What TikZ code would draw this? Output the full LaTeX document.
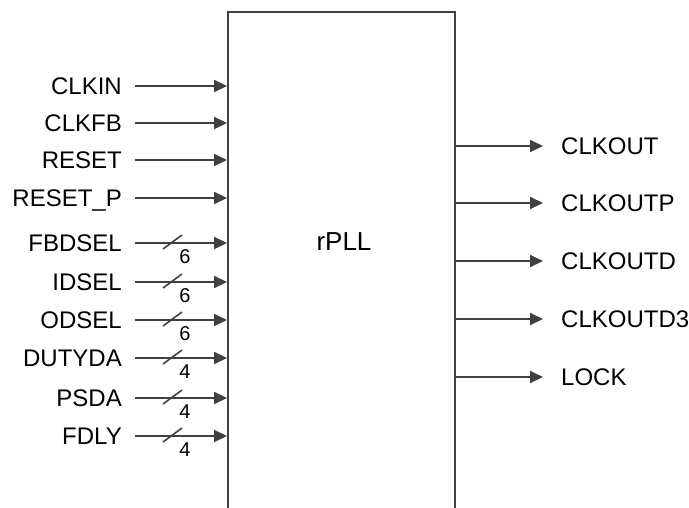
\documentclass[tikz,border=0pt]{standalone}
\usepackage{fontspec}
\setmainfont{Liberation Sans}
\usetikzlibrary{arrows.meta}
\definecolor{linec}{RGB}{64,64,64}
\tikzset{
  wire/.style={draw=linec, line width=2pt, -{Triangle[length=13pt,width=12pt]}},
  lbl/.style={font=\fontsize{24}{27}\selectfont, inner sep=0pt, text height=17pt, text depth=0pt},
  inl/.style={lbl, anchor=east},
  outl/.style={lbl, anchor=west},
  buslbl/.style={font=\fontsize{20}{23}\selectfont, inner sep=0pt},
  slash/.style={draw=linec, line width=1.6pt},
  blk/.style={draw=linec, line width=2pt, minimum width=227pt, minimum height=520pt, anchor=north west, inner sep=0pt}
}
\begin{document}
\begin{tikzpicture}[x=1pt,y=-1pt]
\useasboundingbox (0,0) rectangle (689,507);
\clip (0,0) rectangle (689,507);
\node[blk] (box) at (227,11) {};
\node[font=\fontsize{26}{29}\selectfont, inner sep=0pt] (title) at (344,242) {rPLL};
% inputs
\foreach \nm/\txt/\y in {a/CLKIN/86, b/CLKFB/123, c/RESET/160, d/RESET\_P/198, e/FBDSEL/243, f/IDSEL/282, g/ODSEL/320, h/DUTYDA/358, i/PSDA/398, j/FDLY/436}{
  \node[inl] (in\nm) at (122,\y) {\txt};
  \coordinate (s\nm) at (135,\y);
  \draw[wire] (s\nm) -- (s\nm -| box.west);
}
% bus markers
\foreach \nm/\w/\y in {e/6/243, f/6/282, g/6/320, h/4/358, i/4/398, j/4/436}{
  \draw[slash] (163,\y+6) -- (182,\y-8);
  \node[buslbl] (w\nm) at (185,\y+14) {\w};
}
% outputs
\foreach \nm/\txt/\y in {a/CLKOUT/146, b/CLKOUTP/203, c/CLKOUTD/261, d/CLKOUTD3/319, e/LOCK/377}{
  \coordinate (o\nm) at (543,\y);
  \draw[wire] (o\nm -| box.east) -- (o\nm);
  \node[outl] (out\nm) at (561,\y) {\txt};
}
\end{tikzpicture}
\end{document}
